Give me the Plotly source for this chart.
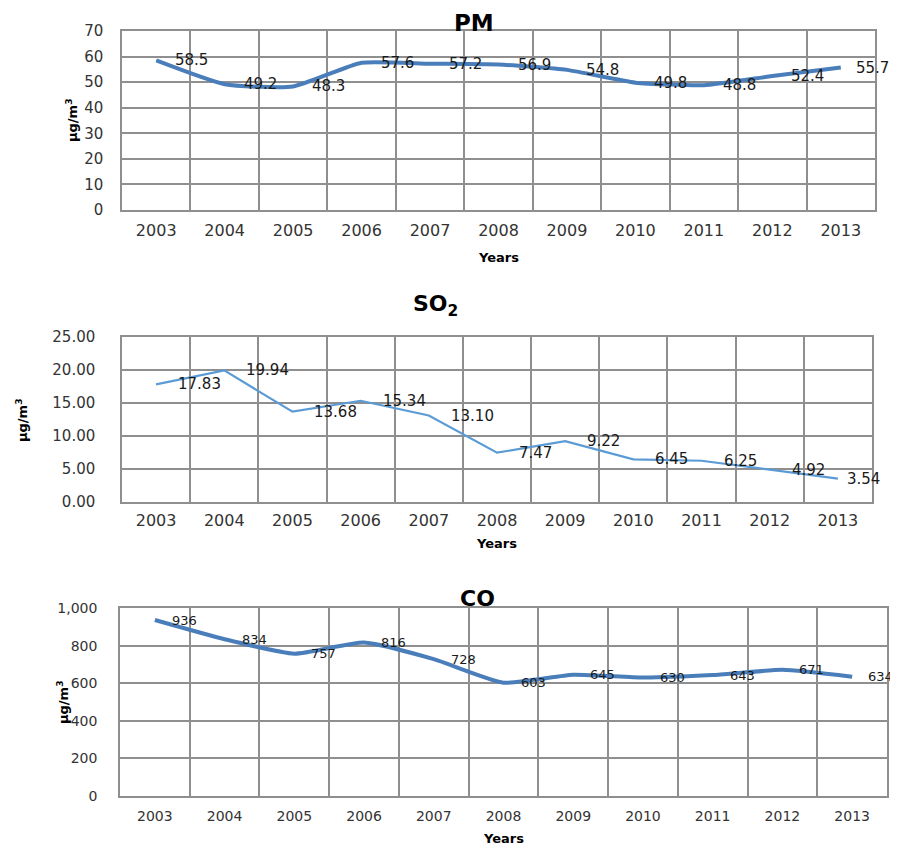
import plotly.graph_objects as go

years = ["2003", "2004", "2005", "2006", "2007", "2008", "2009", "2010", "2011", "2012", "2013"]
pm = [58.5, 49.2, 48.3, 57.6, 57.2, 56.9, 54.8, 49.8, 48.8, 52.4, 55.7]
so2 = [17.83, 19.94, 13.68, 15.34, 13.10, 7.47, 9.22, 6.45, 6.25, 4.92, 3.54]
co = [936, 834, 757, 816, 728, 603, 645, 630, 643, 671, 634]

pm_labels = ["58.5", "49.2", "48.3", "57.6", "57.2", "56.9", "54.8", "49.8", "48.8", "52.4", "55.7"]
so2_labels = ["17.83", "19.94", "13.68", "15.34", "13.10", "7.47", "9.22", "6.45", "6.25", "4.92", "3.54"]
co_labels = ["936", "834", "757", "816", "728", "603", "645", "630", "643", "671", "634"]

# page has an 8px body margin: size figure so it fills the 898x845 window
OFF = 8
FW, FH = 898 - OFF, 845 - OFF
FONT = "DejaVu Sans"
GRID = "#8f8f8f"

def px(x):
    return (x - OFF) / FW

def py(y):
    return 1 - (y - OFF) / FH

fig = go.Figure()

fig.add_trace(go.Scatter(x=years, y=pm, mode="lines", xaxis="x", yaxis="y",
                         line=dict(color="#4A7EBB", width=4, shape="spline", smoothing=0.5),
                         hoverinfo="x+y", showlegend=False))
fig.add_trace(go.Scatter(x=years, y=so2, mode="lines", xaxis="x2", yaxis="y2",
                         line=dict(color="#5B9BD5", width=2.2),
                         hoverinfo="x+y", showlegend=False))
fig.add_trace(go.Scatter(x=years, y=co, mode="lines", xaxis="x3", yaxis="y3",
                         line=dict(color="#4A7EBB", width=4, shape="spline", smoothing=0.5),
                         hoverinfo="x+y", showlegend=False))

def xax(domain, size, anchor, standoff):
    return dict(domain=domain, type="category", tickson="boundaries", anchor=anchor,
                range=[-0.5, len(years) - 0.5], categoryorder="array", categoryarray=years,
                showgrid=True, gridcolor=GRID, gridwidth=1.5, tickangle=0, automargin=False,
                showline=True, linecolor=GRID, linewidth=1.5, mirror=True,
                ticks="", ticklabelstandoff=standoff,
                tickfont=dict(family=FONT, size=size, color="#333333"), fixedrange=True)

def yax(domain, rng, dtick, fmt, size, anchor, standoff):
    return dict(domain=domain, range=rng, dtick=dtick, tickformat=fmt, anchor=anchor,
                showgrid=True, gridcolor=GRID, gridwidth=1.5, automargin=False,
                showline=True, linecolor=GRID, linewidth=1.5, mirror=True,
                ticks="", ticklabelstandoff=standoff, zeroline=False,
                tickfont=dict(family=FONT, size=size, color="#333333"), fixedrange=True)

fig.update_layout(
    width=FW, height=FH, margin=dict(l=0, r=0, t=0, b=0, pad=0, autoexpand=False),
    paper_bgcolor="white", plot_bgcolor="white",
    xaxis=xax([px(122), px(875)], 16, "y", 5),
    yaxis=yax([py(210), py(31)], [0, 70], 10, "d", 15, "x", 14),
    xaxis2=xax([px(122), px(872)], 16, "y2", 3),
    yaxis2=yax([py(502), py(337)], [0, 25], 5, ".2f", 15, "x2", 22),
    xaxis3=xax([px(120), px(887)], 14, "y3", 6),
    yaxis3=yax([py(796), py(608)], [0, 1000], 200, ",d", 14, "x3", 18),
)

ann = []

def text_at(t, x, y, size, angle=0):
    ann.append(dict(text=t, x=px(x), y=py(y), xref="paper", yref="paper",
                    xanchor="center", yanchor="middle", textangle=angle,
                    showarrow=False, font=dict(family=FONT, size=size, color="black")))

# titles
text_at("<b>PM</b>", 474, 23, 23)
text_at("<b>SO<sub>2</sub></b>", 435, 305, 22)
text_at("<b>CO</b>", 477, 598, 22)
# x titles
for xx, yy in [(498, 257), (497, 543), (503, 838)]:
    text_at("<b>Years</b>", xx, yy, 13)
# y titles
for xx, yy in [(72, 120), (22, 420), (63, 702)]:
    text_at("<b>μg/m<sup>3</sup></b>", xx, yy, 13, -90)

# data labels (category axis: positions by index of the year)
def labels(vals, texts, xr, yr, size, shift, last_shift):
    n = len(vals)
    for i, (v, t) in enumerate(zip(vals, texts)):
        ann.append(dict(text=t, x=i, y=v, xref=xr, yref=yr, xanchor="left", yanchor="middle",
                        xshift=(last_shift if i == n - 1 else shift), showarrow=False,
                        font=dict(family=FONT, size=size, color="#1a1a1a")))

labels(pm, pm_labels, "x", "y", 15, 17, 13)
labels(so2, so2_labels, "x2", "y2", 15, 20, 7)
labels(co, co_labels, "x3", "y3", 13, 15, 14)

fig.update_layout(annotations=ann)
fig.write_html("out.html")
